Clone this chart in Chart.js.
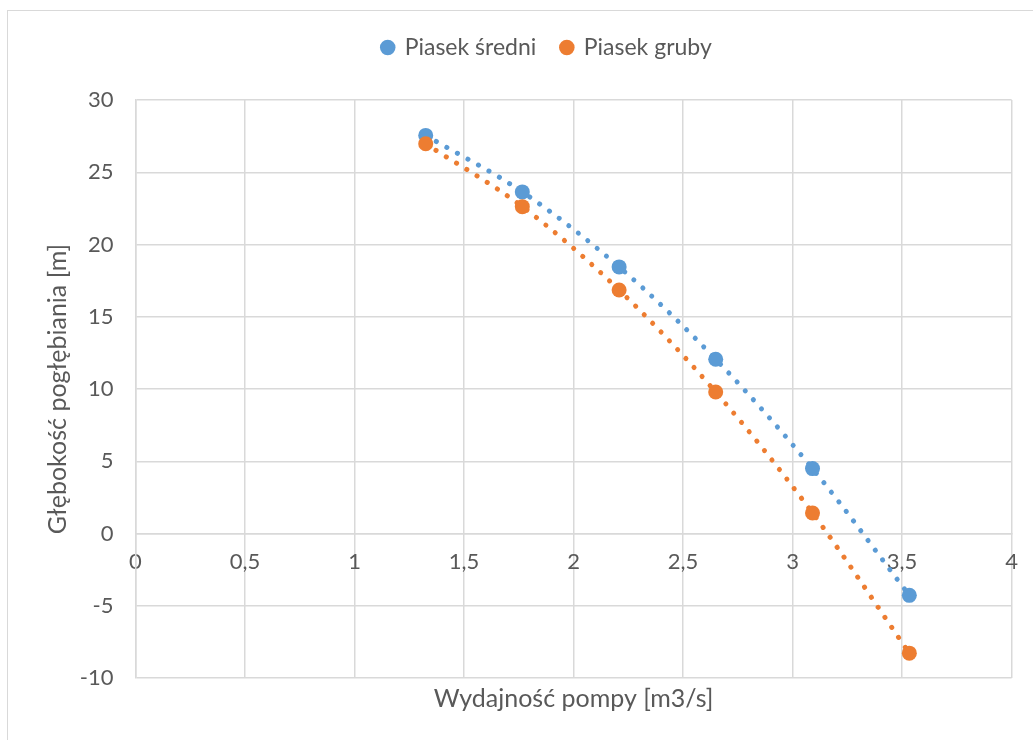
<!DOCTYPE html>
<html>
<head>
<meta charset="utf-8">
<script src="https://cdn.jsdelivr.net/npm/chart.js@4"></script>
<style>
  html, body { margin: 0; padding: 0; background: #fff; overflow: hidden; }
  #wrap { position: relative; width: 1033px; height: 740px; }
  #frame { position: absolute; left: 7px; top: 10px; width: 1100px; height: 800px; border: 1.5px solid #d9d9d9; pointer-events: none; }
  canvas { position: absolute; left: 0; top: 0; }
</style>
</head>
<body>
<div id="wrap">
  <div id="frame"></div>
  <canvas id="wykres" width="1033" height="740"></canvas>
</div>
<script>
// wydajność pompy [m3/s]
const wydajnosc = [1.325, 1.766, 2.208, 2.649, 3.091, 3.533];
// głębokość pogłębiania [m]
const piasekSredni = [27.55, 23.64, 18.45, 12.06, 4.49, -4.28];
const piasekGruby = [26.97, 22.62, 16.85, 9.79, 1.42, -8.28];
const xTicks = [0, 0.5, 1, 1.5, 2, 2.5, 3, 3.5, 4];
const yTicks = [-10, -5, 0, 5, 10, 15, 20, 25, 30];

const niebieski = '#5b9bd5';
const pomaranczowy = '#ed7d31';
const tekst = '#595959';
const siatka = '#d9d9d9';
const font = 'Lato';

function punkty(ys) {
  return wydajnosc.map((x, i) => ({ x: x, y: ys[i] }));
}

function seria(label, ys, kolor, order) {
  return {
    label: label,
    data: punkty(ys),
    order: order,
    showLine: true,
    cubicInterpolationMode: 'monotone',
    borderColor: kolor,
    backgroundColor: kolor,
    borderWidth: 5,
    borderDash: [0.1, 12],
    borderCapStyle: 'round',
    pointRadius: 7.5,
    pointHoverRadius: 7.5,
    pointBorderWidth: 0,
    pointBackgroundColor: kolor
  };
}

const fmt = v => String(v).replace('.', ',');

// legenda o stałej wysokości i lekko przesunięta w prawo, jak w Excelu
const ukladLegendy = {
  id: 'ukladLegendy',
  beforeInit(chart) {
    const fit = chart.legend.fit;
    chart.legend.fit = function () {
      fit.call(this);
      this.height = 89;
    };
  },
  afterLayout(chart) {
    chart.legend.left += 21;
    chart.legend.right += 21;
  }
};

new Chart(document.getElementById('wykres').getContext('2d'), {
  type: 'scatter',
  data: {
    datasets: [
      seria('Piasek średni', piasekSredni, niebieski, 1),
      seria('Piasek gruby', piasekGruby, pomaranczowy, 0)
    ]
  },
  options: {
    responsive: false,
    animation: false,
    layout: { padding: { left: 40, right: 21, top: 11, bottom: 16 } },
    plugins: {
      legend: {
        position: 'top',
        labels: {
          usePointStyle: true,
          pointStyle: 'circle',
          boxWidth: 11,
          boxHeight: 11,
          padding: 25,
          color: tekst,
          font: { family: font, size: 23 },
          sort: (a, b) => a.datasetIndex - b.datasetIndex
        }
      },
      title: {
        display: true,
        position: 'bottom',
        fullSize: false,
        text: 'Wydajność pompy [m3/s]',
        color: tekst,
        font: { family: font, size: 25, weight: 'normal' },
        padding: { top: 6, bottom: 10 }
      },
      tooltip: { enabled: false }
    },
    scales: {
      x: {
        type: 'linear',
        position: { y: 0 },
        min: 0,
        max: 4,
        afterBuildTicks: s => { s.ticks = xTicks.map(v => ({ value: v })); },
        ticks: { color: tekst, font: { family: font, size: 22 }, padding: 15, callback: fmt },
        grid: { color: siatka, lineWidth: 1.5, drawTicks: false },
        border: { color: siatka, width: 1.5 }
      },
      y: {
        type: 'linear',
        min: -10,
        max: 30,
        afterBuildTicks: s => { s.ticks = yTicks.map(v => ({ value: v })); },
        afterFit: s => { s.width = 95.5; },
        ticks: { color: tekst, font: { family: font, size: 22 }, padding: 22, callback: fmt },
        grid: { color: siatka, lineWidth: 1.5, drawTicks: false },
        border: { color: siatka, width: 1.5 },
        title: {
          display: true,
          text: 'Głębokość pogłębiania [m]',
          color: tekst,
          font: { family: font, size: 25 },
          padding: { top: 3, bottom: 3 }
        }
      }
    }
  },
  plugins: [ukladLegendy]
});
</script>
</body>
</html>
